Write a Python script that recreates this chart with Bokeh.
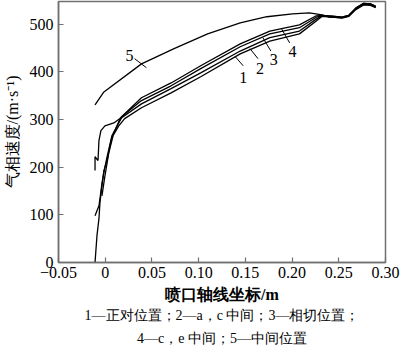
from bokeh.plotting import figure
from bokeh.models import Title, Label, FixedTicker, Range1d
from bokeh.core.properties import value
from bokeh.embed import file_html
from bokeh.resources import INLINE

FONT = "Liberation Serif"

# ---- data ----
c1_x = [-0.0109, -0.0088, -0.0067, -0.0056, -0.0035, -0.0014, 0.0018, 0.0071, 0.0145, 0.0208,
        0.0388, 0.0705, 0.1022, 0.1445, 0.1762, 0.2079, 0.2259, 0.2322, 0.2428, 0.2534,
        0.2608, 0.2682, 0.2766, 0.2840, 0.2895]
c1_y = [0, 57, 92, 126, 161, 193, 214, 262, 287, 302,
        325, 356, 390, 438, 465, 480, 507, 517, 515, 513,
        517, 531, 541, 540, 535]

c2_x = [-0.0109, -0.0067, -0.0056, -0.0035, -0.0014, 0.0018, 0.0071, 0.0145, 0.0176,
        0.0388, 0.0705, 0.1022, 0.1445, 0.1762, 0.2079, 0.2259, 0.2322, 0.2428, 0.2534,
        0.2608, 0.2682, 0.2766, 0.2840, 0.2895]
c2_y = [98, 119, 134, 166, 189, 220, 266, 293, 304,
        333, 365, 398, 444, 472, 486, 511, 518, 516, 514,
        518, 533, 543, 542, 537]

c3_x = [-0.0035, -0.0003, 0.0039, 0.0092, 0.0155, 0.0176,
        0.0388, 0.0705, 0.1022, 0.1445, 0.1762, 0.2079, 0.2259, 0.2322, 0.2428, 0.2534,
        0.2608, 0.2682, 0.2766, 0.2840, 0.2895]
c3_y = [140, 182, 231, 272, 300, 306,
        340, 371, 407, 453, 480, 493, 515, 518, 517, 515,
        519, 534, 544, 543, 538]

c4_x = [-0.0109, -0.0109, -0.0077, -0.0067, -0.0046, -0.0003, 0.0092, 0.0155, 0.0176,
        0.0388, 0.0705, 0.1022, 0.1445, 0.1762, 0.2079, 0.2259, 0.2322, 0.2428, 0.2534,
        0.2608, 0.2682, 0.2766, 0.2840, 0.2895]
c4_y = [193, 222, 214, 256, 277, 287, 293, 302, 306,
        346, 377, 413, 459, 486, 499, 518, 519, 517, 515,
        519, 534, 544, 543, 538]

c5_x = [-0.0109, -0.0014, 0.0388, 0.0737, 0.1096, 0.1445, 0.1730, 0.2005, 0.2185,
        0.2322, 0.2398, 0.2534, 0.2608, 0.2682, 0.2766, 0.2840, 0.2895]
c5_y = [331, 358, 417, 449, 480, 503, 516, 522, 524,
        520, 515, 514, 518, 532, 542, 541, 536]

series_x = [c1_x, c2_x, c3_x, c4_x, c5_x]
series_y = [c1_y, c2_y, c3_y, c4_y, c5_y]

label_text = ["1", "2", "3", "4", "5"]
label_x = [0.1477, 0.1656, 0.1804, 0.2005, 0.0261]
label_y = [388, 408, 426, 443, 434]
leader_x0 = [0.1392, 0.1550, 0.1688, 0.1889, 0.0314]
leader_y0 = [432, 449, 472, 490, 428]
leader_x1 = [0.1477, 0.1635, 0.1773, 0.1974, 0.0441]
leader_y1 = [413, 428, 444, 461, 409]

x_ticks = [-0.05, 0, 0.05, 0.10, 0.15, 0.20, 0.25, 0.30]
x_tick_labels = ["\u22120.05", "0", "0.05", "0.10", "0.15", "0.20", "0.25", "0.30"]
y_ticks = [0, 100, 200, 300, 400, 500]

x_title = "喷口轴线坐标/m"
y_title = "气相速度/(m·s\u207b\u00b9)"
caption1 = "1—正对位置；2—a，c 中间；3—相切位置；"
caption2 = "4—c，e 中间；5—中间位置"
watermark = "@有色金属在线"

# ---- figure ----
p = figure(width=400, height=353, output_backend="svg", toolbar_location=None,
           x_range=Range1d(-0.05, 0.30), y_range=Range1d(0, 548),
           min_border_left=56, min_border_right=15, min_border_top=1, min_border_bottom=91)
p.background_fill_color = "white"
p.border_fill_color = "white"
p.grid.visible = False
p.outline_line_color = "#707070"
p.outline_line_width = 1.5

for xs, ys in zip(series_x, series_y):
    p.line(xs, ys, line_color="black", line_width=1.3)

p.segment(x0=leader_x0, y0=leader_y0, x1=leader_x1, y1=leader_y1,
          line_color="black", line_width=1)
p.text(x=label_x, y=label_y, text=label_text, text_font=value(FONT),
       text_font_size="16px", text_align="center", text_baseline="middle", text_color="black")

for ax in (p.xaxis[0], p.yaxis[0]):
    ax.axis_line_color = "#707070"
    ax.axis_line_width = 1.5
    ax.major_tick_line_color = "#707070"
    ax.major_tick_line_width = 1.2
    ax.major_tick_in = 5
    ax.major_tick_out = 0
    ax.minor_tick_line_color = None
    ax.major_label_text_font = FONT
    ax.major_label_text_font_size = "16px"
    ax.major_label_text_color = "black"
    ax.axis_label_text_font = FONT
    ax.axis_label_text_font_size = "16px"
    ax.axis_label_text_color = "black"

p.xaxis.ticker = FixedTicker(ticks=x_ticks)
p.xaxis.major_label_overrides = {t: l for t, l in zip(x_ticks, x_tick_labels)}
p.yaxis.ticker = FixedTicker(ticks=y_ticks)
p.xaxis.axis_label = x_title
p.xaxis.axis_label_text_font_style = "bold"
p.xaxis.axis_label_standoff = 5
p.xaxis.major_label_standoff = 4
p.yaxis.axis_label = y_title
p.yaxis.axis_label_text_font_style = "normal"
p.yaxis.axis_label_standoff = 6
p.yaxis.major_label_standoff = 5

t1 = Title(text=caption1, align="center", text_font=FONT, text_font_size="14px",
           text_font_style="normal", text_color="black", standoff=0, offset=0)
t2 = Title(text=caption2, align="center", text_font=FONT, text_font_size="14px",
           text_font_style="normal", text_color="black", standoff=13)
p.add_layout(t1, "below")
p.add_layout(t2, "below")

wm = Label(x=0.2132, y=-170, text=watermark, text_font=FONT, text_font_size="13px",
           text_color="#e6b4b4", text_baseline="middle", text_align="left")
p.add_layout(wm)

open("out.html", "w").write(file_html(p, INLINE))
